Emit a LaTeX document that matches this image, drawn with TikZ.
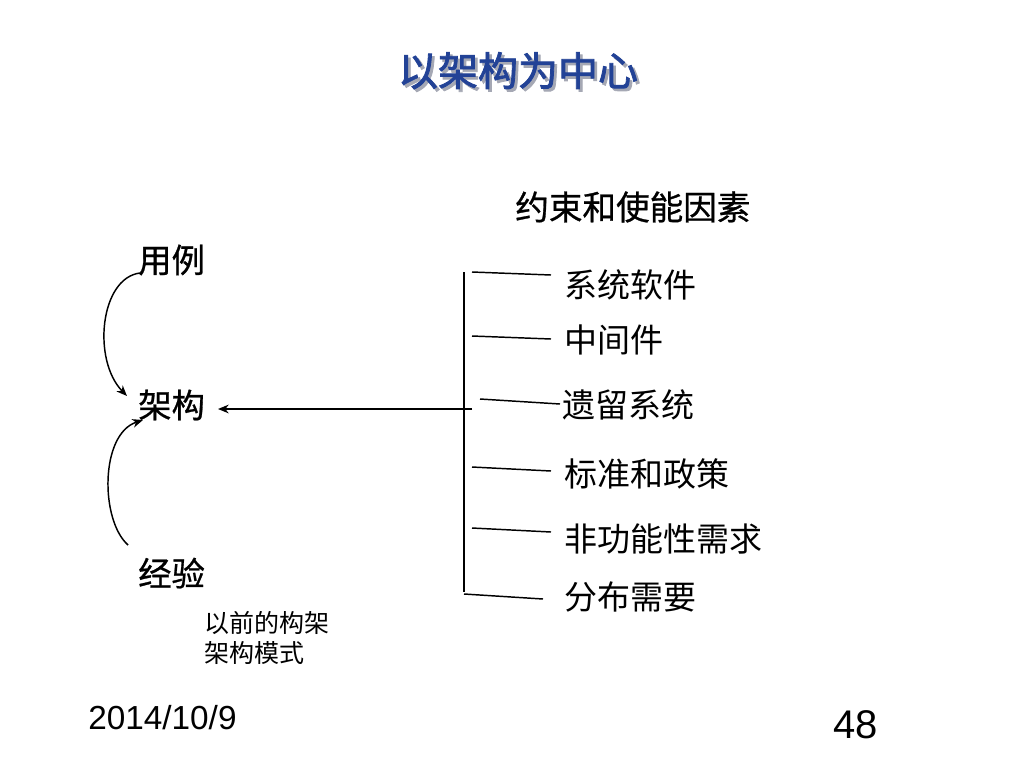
\documentclass[tikz,border=0pt]{standalone}
\usepackage{fontspec}
\setmainfont{Liberation Sans}
\newfontfamily\cjk{Noto Sans CJK SC}
\newfontfamily\cjkbold[FakeBold=2]{Noto Sans CJK SC}
\newfontfamily\cjkmid[FakeBold=0.8]{Noto Sans CJK SC}
\usetikzlibrary{arrows.meta}
\definecolor{titleblue}{RGB}{34,66,150}
\definecolor{shadowgrey}{RGB}{165,168,180}
\newcommand{\shadowtitle}[1]{\makebox[0pt][l]{\hspace{2pt}\raisebox{-2pt}{\textcolor{shadowgrey}{#1}}}\textcolor{titleblue}{#1}}
\tikzset{
  titletext/.style={inner sep=0pt, font=\cjkbold\fontsize{30pt}{30pt}\selectfont},
  headtext/.style={inner sep=0pt, anchor=west, font=\cjkmid\fontsize{25.2pt}{26pt}\selectfont},
  lbl/.style={inner sep=0pt, anchor=west, font=\cjkmid\fontsize{25pt}{26pt}\selectfont},
  item/.style={inner sep=0pt, anchor=west, font=\cjk\fontsize{24.75pt}{26pt}\selectfont},
  note/.style={inner sep=0pt, anchor=west, font=\cjk\fontsize{18.75pt}{20pt}\selectfont},
  foot/.style={inner sep=0pt, anchor=base west, font=\fontsize{25pt}{26pt}\selectfont},
  pagenum/.style={inner sep=0pt, anchor=base west, font=\fontsize{30pt}{31pt}\selectfont},
  conn/.style={line width=1.1pt, black},
  arr/.style={conn, -{Stealth[length=8pt,width=6.5pt,inset=2.5pt]}},
}
\begin{document}
\begin{tikzpicture}[x=0.75pt,y=-0.75pt]
\useasboundingbox (0,0) rectangle (1024,768);
\fill[white] (0,0) rectangle (1024,768);

% title with shadow
\node[titletext] (title) at (518,72) {\shadowtitle{以架构为中心}};

% heading
\node[headtext] (head) at (515,207) {约束和使能因素};

% left labels
\node[lbl] (usecase) at (138,260) {用例};
\node[lbl] (arch) at (138,405) {架构};
\node[lbl] (exp) at (138,573) {经验};
\node[note] (note1) at (204,623) {以前的构架};
\node[note] (note2) at (204,653) {架构模式};

% right items
\node[item] (i1) at (564,285) {系统软件};
\node[item] (i2) at (564,340) {中间件};
\node[item] (i3) at (562,405) {遗留系统};
\node[item] (i4) at (564,474) {标准和政策};
\node[item] (i5) at (564,539) {非功能性需求};
\node[item] (i6) at (564,597) {分布需要};

% bar and ticks
\coordinate (bartop) at (464,272);
\coordinate (barbot) at (464,592);
\draw[conn] (bartop) -- (barbot);

\coordinate (a1) at (472,272); \coordinate (b1) at (551,275);
\coordinate (a2) at (472,336); \coordinate (b2) at (551,339);
\coordinate (a3) at (480,399); \coordinate (b3) at (560,404);
\coordinate (a4) at (472,467); \coordinate (b4) at (551,471);
\coordinate (a5) at (472,528); \coordinate (b5) at (551,532);
\coordinate (a6) at (464,594); \coordinate (b6) at (543,599);
\foreach \k in {1,...,6} { \draw[conn] (a\k) -- (b\k); }

% main arrow into 架构
\coordinate (arrstart) at (472,409);
\coordinate (arrtip) at (218,409);
\draw[arr] (arrstart) -- (arrtip);

% curved arrows
\coordinate (ucstart) at (140,273);
\coordinate (uctip) at (127,396);
\draw[arr] (ucstart) .. controls (100,278) and (92,360) .. (uctip);

\coordinate (expstart) at (128,545);
\coordinate (exptip) at (143,420);
\draw[arr] (expstart) .. controls (100,520) and (100,434) .. (exptip);

% footer
\node[foot] (date) at (88,729) {2014/10/9};
\node[pagenum] (page) at (833,738) {48};
\end{tikzpicture}
\end{document}
